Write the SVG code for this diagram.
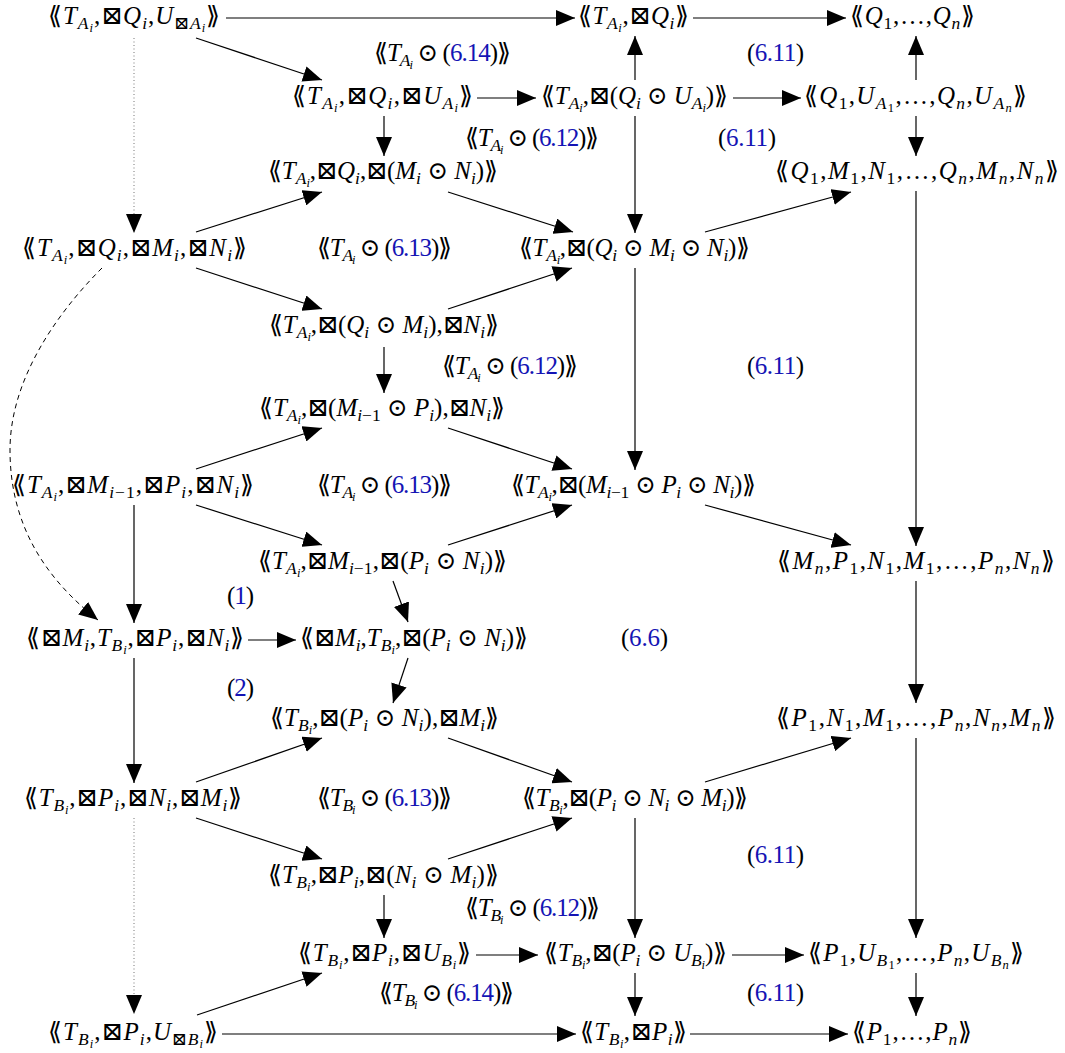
<svg xmlns="http://www.w3.org/2000/svg" width="1065" height="1053" viewBox="0 0 1065 1053">
<defs>
<marker id="ah" markerUnits="userSpaceOnUse" markerWidth="19" markerHeight="16" refX="19" refY="8" orient="auto"><path d="M0,0 L19,8 L0,16 Z" fill="#000"/></marker>
<style>
.n{font-family:"Liberation Serif","DejaVu Serif","DejaVu Sans",serif;font-size:25px;fill:#000}
.i{font-style:italic}
.s{font-size:17.5px;font-style:italic}
.sr{font-size:17.5px;font-style:normal}
.ss{font-size:12.5px;font-style:italic}
.ssr{font-size:12.5px;font-style:normal}
.b{fill:#1414b4}
.e{stroke:#000;stroke-width:1.2;fill:none;marker-end:url(#ah)}
.d{stroke:#777;stroke-width:1;stroke-dasharray:1 2.5;fill:none;marker-end:url(#ah)}
.da{stroke:#000;stroke-width:1;stroke-dasharray:5 4;fill:none;marker-end:url(#ah)}
</style>
</defs>
<rect width="1065" height="1053" fill="#fff"/>
<g id="connectors">
<line class="e" x1="226" y1="18" x2="575" y2="18"/>
<line class="e" x1="693" y1="18" x2="846" y2="18"/>
<line class="e" x1="196" y1="38" x2="322" y2="80"/>
<line class="e" x1="477" y1="98" x2="536" y2="98"/>
<line class="e" x1="733" y1="98" x2="801" y2="98"/>
<line class="e" x1="635" y1="80" x2="635" y2="36"/>
<line class="e" x1="916" y1="80" x2="916" y2="36"/>
<line class="e" x1="384" y1="116" x2="384" y2="156"/>
<line class="e" x1="916" y1="116" x2="916" y2="156"/>
<line class="e" x1="635" y1="116" x2="635" y2="233"/>
<line class="e" x1="196" y1="232" x2="322" y2="192"/>
<line class="e" x1="448" y1="192" x2="573" y2="232"/>
<line class="e" x1="705" y1="232" x2="851" y2="192"/>
<line class="e" x1="916" y1="191" x2="916" y2="546"/>
<line class="d" x1="134" y1="38" x2="134" y2="233"/>
<line class="e" x1="196" y1="268" x2="322" y2="309"/>
<line class="e" x1="448" y1="309" x2="572" y2="268"/>
<line class="e" x1="384" y1="347" x2="384" y2="393"/>
<line class="e" x1="635" y1="268" x2="635" y2="470"/>
<line class="e" x1="196" y1="469" x2="322" y2="428"/>
<line class="e" x1="448" y1="428" x2="572" y2="469"/>
<line class="e" x1="196" y1="505" x2="322" y2="545"/>
<line class="e" x1="448" y1="545" x2="572" y2="505"/>
<line class="e" x1="705" y1="505" x2="851" y2="545"/>
<line class="e" x1="134" y1="505" x2="134" y2="623"/>
<line class="e" x1="393" y1="581" x2="408" y2="622"/>
<line class="e" x1="248" y1="640" x2="296" y2="640"/>
<path class="da" d="M102,268 C70,300 10,370 10,450 C10,530 50,582 98,620"/>
<line class="e" x1="408" y1="658" x2="393" y2="703"/>
<line class="e" x1="134" y1="658" x2="134" y2="783"/>
<line class="e" x1="916" y1="581" x2="916" y2="703"/>
<line class="e" x1="196" y1="782" x2="322" y2="738"/>
<line class="e" x1="448" y1="738" x2="572" y2="782"/>
<line class="e" x1="705" y1="782" x2="851" y2="738"/>
<line class="e" x1="916" y1="738" x2="916" y2="938"/>
<line class="d" x1="134" y1="818" x2="134" y2="1014"/>
<line class="e" x1="196" y1="818" x2="322" y2="859"/>
<line class="e" x1="448" y1="859" x2="572" y2="818"/>
<line class="e" x1="635" y1="818" x2="635" y2="938"/>
<line class="e" x1="384" y1="895" x2="384" y2="938"/>
<line class="e" x1="476" y1="955" x2="538" y2="955"/>
<line class="e" x1="732" y1="955" x2="804" y2="955"/>
<line class="e" x1="635" y1="973" x2="635" y2="1016"/>
<line class="e" x1="916" y1="973" x2="916" y2="1016"/>
<line class="e" x1="197" y1="1015" x2="322" y2="973"/>
<line class="e" x1="222" y1="1034" x2="576" y2="1034"/>
<line class="e" x1="690" y1="1034" x2="848" y2="1034"/>
</g>
<g id="A0"><text class="n" x="48" y="24" textLength="172" lengthAdjust="spacing">⟪<tspan class="i">T</tspan><tspan class="s" dy="5">A</tspan><tspan class="ss" dy="3">i</tspan><tspan dy="-8">,⊠</tspan><tspan class="i">Q</tspan><tspan class="s" dy="5">i</tspan><tspan dy="-5">,</tspan><tspan class="i">U</tspan><tspan class="sr" dy="5">⊠</tspan><tspan class="s">A</tspan><tspan class="ss" dy="3">i</tspan><tspan dy="-8">⟫</tspan></text></g>
<g id="A1"><text class="n" x="578" y="24" textLength="111" lengthAdjust="spacing">⟪<tspan class="i">T</tspan><tspan class="s" dy="5">A</tspan><tspan class="ss" dy="3">i</tspan><tspan dy="-8">,⊠</tspan><tspan class="i">Q</tspan><tspan class="s" dy="5">i</tspan><tspan dy="-5">⟫</tspan></text></g>
<g id="A2"><text class="n" x="850" y="24" textLength="125" lengthAdjust="spacing">⟪<tspan class="i">Q</tspan><tspan class="sr" dy="5">1</tspan><tspan dy="-5">,…,</tspan><tspan class="i">Q</tspan><tspan class="s" dy="5">n</tspan><tspan dy="-5">⟫</tspan></text></g>
<g id="B0"><text class="n" x="292" y="104" textLength="181" lengthAdjust="spacing">⟪<tspan class="i">T</tspan><tspan class="s" dy="5">A</tspan><tspan class="ss" dy="3">i</tspan><tspan dy="-8">,⊠</tspan><tspan class="i">Q</tspan><tspan class="s" dy="5">i</tspan><tspan dy="-5">,⊠</tspan><tspan class="i">U</tspan><tspan class="s" dy="5">A</tspan><tspan class="ss" dy="3">i</tspan><tspan dy="-8">⟫</tspan></text></g>
<g id="B1"><text class="n" x="541" y="104" textLength="187" lengthAdjust="spacing">⟪<tspan class="i">T</tspan><tspan class="s" dy="5">A</tspan><tspan class="ss" dy="3">i</tspan><tspan dy="-8">,⊠(</tspan><tspan class="i">Q</tspan><tspan class="s" dy="5">i</tspan><tspan dy="-5"> ⊙ </tspan><tspan class="i">U</tspan><tspan class="s" dy="5">A</tspan><tspan class="ss" dy="3">i</tspan><tspan dy="-8">)⟫</tspan></text></g>
<g id="B2"><text class="n" x="804" y="104" textLength="223" lengthAdjust="spacing">⟪<tspan class="i">Q</tspan><tspan class="sr" dy="5">1</tspan><tspan dy="-5">,</tspan><tspan class="i">U</tspan><tspan class="s" dy="5">A</tspan><tspan class="ssr" dy="3">1</tspan><tspan dy="-8">,…,</tspan><tspan class="i">Q</tspan><tspan class="s" dy="5">n</tspan><tspan dy="-5">,</tspan><tspan class="i">U</tspan><tspan class="s" dy="5">A</tspan><tspan class="ss" dy="3">n</tspan><tspan dy="-8">⟫</tspan></text></g>
<g id="C0"><text class="n" x="268" y="179" textLength="230" lengthAdjust="spacing">⟪<tspan class="i">T</tspan><tspan class="s" dy="5">A</tspan><tspan class="ss" dy="3">i</tspan><tspan dy="-8">,⊠</tspan><tspan class="i">Q</tspan><tspan class="s" dy="5">i</tspan><tspan dy="-5">,⊠(</tspan><tspan class="i">M</tspan><tspan class="s" dy="5">i</tspan><tspan dy="-5"> ⊙ </tspan><tspan class="i">N</tspan><tspan class="s" dy="5">i</tspan><tspan dy="-5">)⟫</tspan></text></g>
<g id="C2"><text class="n" x="775" y="179" textLength="284" lengthAdjust="spacing">⟪<tspan class="i">Q</tspan><tspan class="sr" dy="5">1</tspan><tspan dy="-5">,</tspan><tspan class="i">M</tspan><tspan class="sr" dy="5">1</tspan><tspan dy="-5">,</tspan><tspan class="i">N</tspan><tspan class="sr" dy="5">1</tspan><tspan dy="-5">,…,</tspan><tspan class="i">Q</tspan><tspan class="s" dy="5">n</tspan><tspan dy="-5">,</tspan><tspan class="i">M</tspan><tspan class="s" dy="5">n</tspan><tspan dy="-5">,</tspan><tspan class="i">N</tspan><tspan class="s" dy="5">n</tspan><tspan dy="-5">⟫</tspan></text></g>
<g id="D0"><text class="n" x="22" y="256" textLength="225" lengthAdjust="spacing">⟪<tspan class="i">T</tspan><tspan class="s" dy="5">A</tspan><tspan class="ss" dy="3">i</tspan><tspan dy="-8">,⊠</tspan><tspan class="i">Q</tspan><tspan class="s" dy="5">i</tspan><tspan dy="-5">,⊠</tspan><tspan class="i">M</tspan><tspan class="s" dy="5">i</tspan><tspan dy="-5">,⊠</tspan><tspan class="i">N</tspan><tspan class="s" dy="5">i</tspan><tspan dy="-5">⟫</tspan></text></g>
<g id="D1"><text class="n" x="519" y="256" textLength="231" lengthAdjust="spacing">⟪<tspan class="i">T</tspan><tspan class="s" dy="5">A</tspan><tspan class="ss" dy="3">i</tspan><tspan dy="-8">,⊠(</tspan><tspan class="i">Q</tspan><tspan class="s" dy="5">i</tspan><tspan dy="-5"> ⊙ </tspan><tspan class="i">M</tspan><tspan class="s" dy="5">i</tspan><tspan dy="-5"> ⊙ </tspan><tspan class="i">N</tspan><tspan class="s" dy="5">i</tspan><tspan dy="-5">)⟫</tspan></text></g>
<g id="E"><text class="n" x="269" y="333" textLength="230" lengthAdjust="spacing">⟪<tspan class="i">T</tspan><tspan class="s" dy="5">A</tspan><tspan class="ss" dy="3">i</tspan><tspan dy="-8">,⊠(</tspan><tspan class="i">Q</tspan><tspan class="s" dy="5">i</tspan><tspan dy="-5"> ⊙ </tspan><tspan class="i">M</tspan><tspan class="s" dy="5">i</tspan><tspan dy="-5">),⊠</tspan><tspan class="i">N</tspan><tspan class="s" dy="5">i</tspan><tspan dy="-5">⟫</tspan></text></g>
<g id="F"><text class="n" x="259" y="416" textLength="246" lengthAdjust="spacing">⟪<tspan class="i">T</tspan><tspan class="s" dy="5">A</tspan><tspan class="ss" dy="3">i</tspan><tspan dy="-8">,⊠(</tspan><tspan class="i">M</tspan><tspan class="s" dy="5">i</tspan><tspan class="sr">−1</tspan><tspan dy="-5"> ⊙ </tspan><tspan class="i">P</tspan><tspan class="s" dy="5">i</tspan><tspan dy="-5">),⊠</tspan><tspan class="i">N</tspan><tspan class="s" dy="5">i</tspan><tspan dy="-5">⟫</tspan></text></g>
<g id="G0"><text class="n" x="12" y="493" textLength="242" lengthAdjust="spacing">⟪<tspan class="i">T</tspan><tspan class="s" dy="5">A</tspan><tspan class="ss" dy="3">i</tspan><tspan dy="-8">,⊠</tspan><tspan class="i">M</tspan><tspan class="s" dy="5">i</tspan><tspan class="sr">−1</tspan><tspan dy="-5">,⊠</tspan><tspan class="i">P</tspan><tspan class="s" dy="5">i</tspan><tspan dy="-5">,⊠</tspan><tspan class="i">N</tspan><tspan class="s" dy="5">i</tspan><tspan dy="-5">⟫</tspan></text></g>
<g id="G1"><text class="n" x="511" y="493" textLength="245" lengthAdjust="spacing">⟪<tspan class="i">T</tspan><tspan class="s" dy="5">A</tspan><tspan class="ss" dy="3">i</tspan><tspan dy="-8">,⊠(</tspan><tspan class="i">M</tspan><tspan class="s" dy="5">i</tspan><tspan class="sr">−1</tspan><tspan dy="-5"> ⊙ </tspan><tspan class="i">P</tspan><tspan class="s" dy="5">i</tspan><tspan dy="-5"> ⊙ </tspan><tspan class="i">N</tspan><tspan class="s" dy="5">i</tspan><tspan dy="-5">)⟫</tspan></text></g>
<g id="H"><text class="n" x="258" y="569" textLength="249" lengthAdjust="spacing">⟪<tspan class="i">T</tspan><tspan class="s" dy="5">A</tspan><tspan class="ss" dy="3">i</tspan><tspan dy="-8">,⊠</tspan><tspan class="i">M</tspan><tspan class="s" dy="5">i</tspan><tspan class="sr">−1</tspan><tspan dy="-5">,⊠(</tspan><tspan class="i">P</tspan><tspan class="s" dy="5">i</tspan><tspan dy="-5"> ⊙ </tspan><tspan class="i">N</tspan><tspan class="s" dy="5">i</tspan><tspan dy="-5">)⟫</tspan></text></g>
<g id="Mn"><text class="n" x="777" y="569" textLength="278" lengthAdjust="spacing">⟪<tspan class="i">M</tspan><tspan class="s" dy="5">n</tspan><tspan dy="-5">,</tspan><tspan class="i">P</tspan><tspan class="sr" dy="5">1</tspan><tspan dy="-5">,</tspan><tspan class="i">N</tspan><tspan class="sr" dy="5">1</tspan><tspan dy="-5">,</tspan><tspan class="i">M</tspan><tspan class="sr" dy="5">1</tspan><tspan dy="-5">,…,</tspan><tspan class="i">P</tspan><tspan class="s" dy="5">n</tspan><tspan dy="-5">,</tspan><tspan class="i">N</tspan><tspan class="s" dy="5">n</tspan><tspan dy="-5">⟫</tspan></text></g>
<g id="E0"><text class="n" x="26" y="646" textLength="218" lengthAdjust="spacing">⟪⊠<tspan class="i">M</tspan><tspan class="s" dy="5">i</tspan><tspan dy="-5">,</tspan><tspan class="i">T</tspan><tspan class="s" dy="5">B</tspan><tspan class="ss" dy="3">i</tspan><tspan dy="-8">,⊠</tspan><tspan class="i">P</tspan><tspan class="s" dy="5">i</tspan><tspan dy="-5">,⊠</tspan><tspan class="i">N</tspan><tspan class="s" dy="5">i</tspan><tspan dy="-5">⟫</tspan></text></g>
<g id="E1"><text class="n" x="300" y="646" textLength="228" lengthAdjust="spacing">⟪⊠<tspan class="i">M</tspan><tspan class="s" dy="5">i</tspan><tspan dy="-5">,</tspan><tspan class="i">T</tspan><tspan class="s" dy="5">B</tspan><tspan class="ss" dy="3">i</tspan><tspan dy="-8">,⊠(</tspan><tspan class="i">P</tspan><tspan class="s" dy="5">i</tspan><tspan dy="-5"> ⊙ </tspan><tspan class="i">N</tspan><tspan class="s" dy="5">i</tspan><tspan dy="-5">)⟫</tspan></text></g>
<g id="I"><text class="n" x="270" y="726" textLength="229" lengthAdjust="spacing">⟪<tspan class="i">T</tspan><tspan class="s" dy="5">B</tspan><tspan class="ss" dy="3">i</tspan><tspan dy="-8">,⊠(</tspan><tspan class="i">P</tspan><tspan class="s" dy="5">i</tspan><tspan dy="-5"> ⊙ </tspan><tspan class="i">N</tspan><tspan class="s" dy="5">i</tspan><tspan dy="-5">),⊠</tspan><tspan class="i">M</tspan><tspan class="s" dy="5">i</tspan><tspan dy="-5">⟫</tspan></text></g>
<g id="P1"><text class="n" x="776" y="726" textLength="280" lengthAdjust="spacing">⟪<tspan class="i">P</tspan><tspan class="sr" dy="5">1</tspan><tspan dy="-5">,</tspan><tspan class="i">N</tspan><tspan class="sr" dy="5">1</tspan><tspan dy="-5">,</tspan><tspan class="i">M</tspan><tspan class="sr" dy="5">1</tspan><tspan dy="-5">,…,</tspan><tspan class="i">P</tspan><tspan class="s" dy="5">n</tspan><tspan dy="-5">,</tspan><tspan class="i">N</tspan><tspan class="s" dy="5">n</tspan><tspan dy="-5">,</tspan><tspan class="i">M</tspan><tspan class="s" dy="5">n</tspan><tspan dy="-5">⟫</tspan></text></g>
<g id="J0"><text class="n" x="24" y="806" textLength="218" lengthAdjust="spacing">⟪<tspan class="i">T</tspan><tspan class="s" dy="5">B</tspan><tspan class="ss" dy="3">i</tspan><tspan dy="-8">,⊠</tspan><tspan class="i">P</tspan><tspan class="s" dy="5">i</tspan><tspan dy="-5">,⊠</tspan><tspan class="i">N</tspan><tspan class="s" dy="5">i</tspan><tspan dy="-5">,⊠</tspan><tspan class="i">M</tspan><tspan class="s" dy="5">i</tspan><tspan dy="-5">⟫</tspan></text></g>
<g id="J1"><text class="n" x="522" y="806" textLength="226" lengthAdjust="spacing">⟪<tspan class="i">T</tspan><tspan class="s" dy="5">B</tspan><tspan class="ss" dy="3">i</tspan><tspan dy="-8">,⊠(</tspan><tspan class="i">P</tspan><tspan class="s" dy="5">i</tspan><tspan dy="-5"> ⊙ </tspan><tspan class="i">N</tspan><tspan class="s" dy="5">i</tspan><tspan dy="-5"> ⊙ </tspan><tspan class="i">M</tspan><tspan class="s" dy="5">i</tspan><tspan dy="-5">)⟫</tspan></text></g>
<g id="K"><text class="n" x="268" y="883" textLength="231" lengthAdjust="spacing">⟪<tspan class="i">T</tspan><tspan class="s" dy="5">B</tspan><tspan class="ss" dy="3">i</tspan><tspan dy="-8">,⊠</tspan><tspan class="i">P</tspan><tspan class="s" dy="5">i</tspan><tspan dy="-5">,⊠(</tspan><tspan class="i">N</tspan><tspan class="s" dy="5">i</tspan><tspan dy="-5"> ⊙ </tspan><tspan class="i">M</tspan><tspan class="s" dy="5">i</tspan><tspan dy="-5">)⟫</tspan></text></g>
<g id="L0"><text class="n" x="298" y="961" textLength="173" lengthAdjust="spacing">⟪<tspan class="i">T</tspan><tspan class="s" dy="5">B</tspan><tspan class="ss" dy="3">i</tspan><tspan dy="-8">,⊠</tspan><tspan class="i">P</tspan><tspan class="s" dy="5">i</tspan><tspan dy="-5">,⊠</tspan><tspan class="i">U</tspan><tspan class="s" dy="5">B</tspan><tspan class="ss" dy="3">i</tspan><tspan dy="-8">⟫</tspan></text></g>
<g id="L1"><text class="n" x="544" y="961" textLength="183" lengthAdjust="spacing">⟪<tspan class="i">T</tspan><tspan class="s" dy="5">B</tspan><tspan class="ss" dy="3">i</tspan><tspan dy="-8">,⊠(</tspan><tspan class="i">P</tspan><tspan class="s" dy="5">i</tspan><tspan dy="-5"> ⊙ </tspan><tspan class="i">U</tspan><tspan class="s" dy="5">B</tspan><tspan class="ss" dy="3">i</tspan><tspan dy="-8">)⟫</tspan></text></g>
<g id="L2"><text class="n" x="808" y="961" textLength="216" lengthAdjust="spacing">⟪<tspan class="i">P</tspan><tspan class="sr" dy="5">1</tspan><tspan dy="-5">,</tspan><tspan class="i">U</tspan><tspan class="s" dy="5">B</tspan><tspan class="ssr" dy="3">1</tspan><tspan dy="-8">,…,</tspan><tspan class="i">P</tspan><tspan class="s" dy="5">n</tspan><tspan dy="-5">,</tspan><tspan class="i">U</tspan><tspan class="s" dy="5">B</tspan><tspan class="ss" dy="3">n</tspan><tspan dy="-8">⟫</tspan></text></g>
<g id="M0"><text class="n" x="48" y="1040" textLength="170" lengthAdjust="spacing">⟪<tspan class="i">T</tspan><tspan class="s" dy="5">B</tspan><tspan class="ss" dy="3">i</tspan><tspan dy="-8">,⊠</tspan><tspan class="i">P</tspan><tspan class="s" dy="5">i</tspan><tspan dy="-5">,</tspan><tspan class="i">U</tspan><tspan class="sr" dy="5">⊠</tspan><tspan class="s">B</tspan><tspan class="ss" dy="3">i</tspan><tspan dy="-8">⟫</tspan></text></g>
<g id="M1"><text class="n" x="580" y="1040" textLength="107" lengthAdjust="spacing">⟪<tspan class="i">T</tspan><tspan class="s" dy="5">B</tspan><tspan class="ss" dy="3">i</tspan><tspan dy="-8">,⊠</tspan><tspan class="i">P</tspan><tspan class="s" dy="5">i</tspan><tspan dy="-5">⟫</tspan></text></g>
<g id="M2"><text class="n" x="852" y="1040" textLength="120" lengthAdjust="spacing">⟪<tspan class="i">P</tspan><tspan class="sr" dy="5">1</tspan><tspan dy="-5">,…,</tspan><tspan class="i">P</tspan><tspan class="s" dy="5">n</tspan><tspan dy="-5">⟫</tspan></text></g>
<g id="labels">
<text class="n" x="374" y="61" textLength="137" lengthAdjust="spacing">⟪<tspan class="i">T</tspan><tspan class="s" dy="5">A</tspan><tspan class="ss" dy="3">i</tspan><tspan dy="-8"> ⊙ (</tspan><tspan class="b">6.14</tspan>)⟫</text>
<text class="n" x="747" y="61" textLength="57" lengthAdjust="spacing">(<tspan class="b">6.11</tspan>)</text>
<text class="n" x="465" y="146" textLength="134" lengthAdjust="spacing">⟪<tspan class="i">T</tspan><tspan class="s" dy="5">A</tspan><tspan class="ss" dy="3">i</tspan><tspan dy="-8"> ⊙ (</tspan><tspan class="b">6.12</tspan>)⟫</text>
<text class="n" x="718" y="146" textLength="58" lengthAdjust="spacing">(<tspan class="b">6.11</tspan>)</text>
<text class="n" x="317" y="256" textLength="135" lengthAdjust="spacing">⟪<tspan class="i">T</tspan><tspan class="s" dy="5">A</tspan><tspan class="ss" dy="3">i</tspan><tspan dy="-8"> ⊙ (</tspan><tspan class="b">6.13</tspan>)⟫</text>
<text class="n" x="442" y="374" textLength="136" lengthAdjust="spacing">⟪<tspan class="i">T</tspan><tspan class="s" dy="5">A</tspan><tspan class="ss" dy="3">i</tspan><tspan dy="-8"> ⊙ (</tspan><tspan class="b">6.12</tspan>)⟫</text>
<text class="n" x="747" y="374" textLength="57" lengthAdjust="spacing">(<tspan class="b">6.11</tspan>)</text>
<text class="n" x="317" y="493" textLength="135" lengthAdjust="spacing">⟪<tspan class="i">T</tspan><tspan class="s" dy="5">A</tspan><tspan class="ss" dy="3">i</tspan><tspan dy="-8"> ⊙ (</tspan><tspan class="b">6.13</tspan>)⟫</text>
<text class="n" x="227" y="604" textLength="27" lengthAdjust="spacing">(<tspan class="b">1</tspan>)</text>
<text class="n" x="621" y="646" textLength="47" lengthAdjust="spacing">(<tspan class="b">6.6</tspan>)</text>
<text class="n" x="227" y="696" textLength="27" lengthAdjust="spacing">(<tspan class="b">2</tspan>)</text>
<text class="n" x="317" y="806" textLength="135" lengthAdjust="spacing">⟪<tspan class="i">T</tspan><tspan class="s" dy="5">B</tspan><tspan class="ss" dy="3">i</tspan><tspan dy="-8"> ⊙ (</tspan><tspan class="b">6.13</tspan>)⟫</text>
<text class="n" x="747" y="863" textLength="57" lengthAdjust="spacing">(<tspan class="b">6.11</tspan>)</text>
<text class="n" x="465" y="916" textLength="135" lengthAdjust="spacing">⟪<tspan class="i">T</tspan><tspan class="s" dy="5">B</tspan><tspan class="ss" dy="3">i</tspan><tspan dy="-8"> ⊙ (</tspan><tspan class="b">6.12</tspan>)⟫</text>
<text class="n" x="379" y="1001" textLength="135" lengthAdjust="spacing">⟪<tspan class="i">T</tspan><tspan class="s" dy="5">B</tspan><tspan class="ss" dy="3">i</tspan><tspan dy="-8"> ⊙ (</tspan><tspan class="b">6.14</tspan>)⟫</text>
<text class="n" x="747" y="1001" textLength="57" lengthAdjust="spacing">(<tspan class="b">6.11</tspan>)</text>
</g>
</svg>
